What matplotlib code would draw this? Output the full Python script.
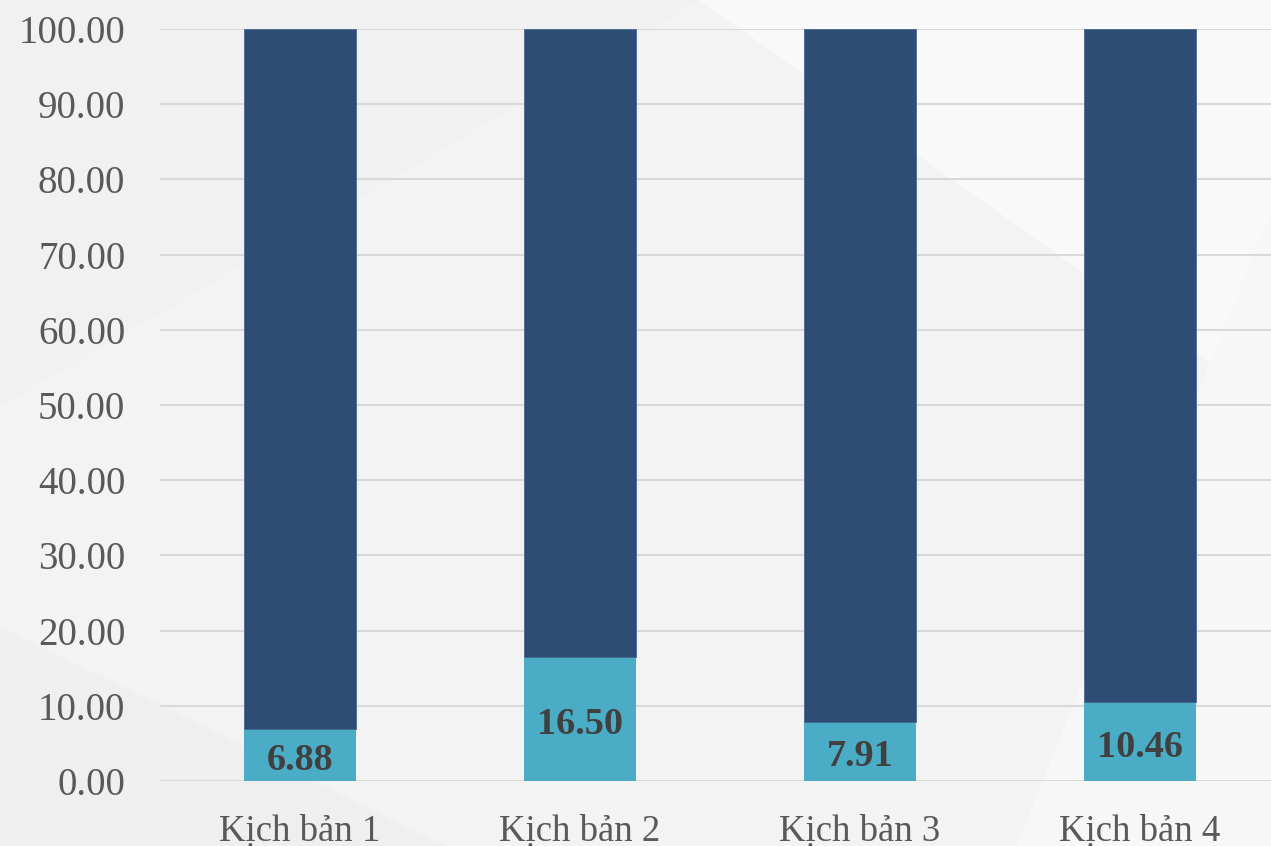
import matplotlib.pyplot as plt
from matplotlib.patches import Polygon

# Data
scenarios = ["Kịch bản 1", "Kịch bản 2", "Kịch bản 3", "Kịch bản 4"]
share_low = [6.88, 16.50, 7.91, 10.46]
share_high = [100 - v for v in share_low]
y_ticks = [0, 10, 20, 30, 40, 50, 60, 70, 80, 90, 100]

fig = plt.figure(figsize=(12.71, 8.46), dpi=100)
fig.patch.set_facecolor("#F3F3F3")

# Faint diagonal background shapes, drawn in a backdrop axes
bg = fig.add_axes([0, 0, 1, 1], zorder=-10)
bg.set_xlim(0, 1)
bg.set_ylim(0, 1)
bg.axis("off")
bg_shapes = [
    ([(0.0, 1.0), (0.55, 1.0), (0.0, 0.52)], "#F1F1F1"),
    ([(0.55, 1.0), (1.0, 1.0), (1.0, 0.52)], "#F9F9F9"),
    ([(0.0, 0.26), (0.35, 0.0), (0.0, 0.0)], "#EFEFEF"),
    ([(0.80, 0.0), (1.0, 0.0), (1.0, 0.75)], "#F7F7F7"),
]
for pts, col in bg_shapes:
    bg.add_patch(Polygon(pts, closed=True, facecolor=col, edgecolor="none"))

ax = fig.add_axes([160 / 1271, 1 - 781 / 846, 1120 / 1271, 752 / 846])
ax.set_facecolor("none")

x = range(len(scenarios))
ax.bar(x, share_low, width=0.397, color="#4BACC6", zorder=3)
ax.bar(x, share_high, width=0.397, bottom=share_low, color="#2E4D74",
       edgecolor="#4A6690", linewidth=0.6, zorder=3)

# value labels sit a touch below the segment middle, like the original
for i, v in enumerate(share_low):
    ax.annotate(f"{v:.2f}", (i, v / 2), xytext=(0, -4), textcoords="offset points",
                ha="center", va="center", family="Liberation Serif",
                fontweight="bold", fontsize=27.5, color="#404040", zorder=4)

ax.set_xlim(-0.5, 3.5)
ax.set_ylim(0, 100)
ax.set_yticks(y_ticks)
ax.set_yticklabels([f"{t:.2f}" for t in y_ticks])
ax.set_xticks(list(x))
ax.set_xticklabels(scenarios)
ax.yaxis.grid(True, color="#D9D9D9", linewidth=1.5, zorder=1)
ax.set_axisbelow(True)
for s in ax.spines.values():
    s.set_visible(False)
ax.tick_params(axis="both", length=0, colors="#595959")
ax.tick_params(axis="y", pad=25, labelsize=28)
ax.tick_params(axis="x", pad=24, labelsize=26.5)
for lbl in ax.get_xticklabels() + ax.get_yticklabels():
    lbl.set_family("Liberation Serif")

fig.savefig("out.png", dpi=100, facecolor=fig.get_facecolor())
